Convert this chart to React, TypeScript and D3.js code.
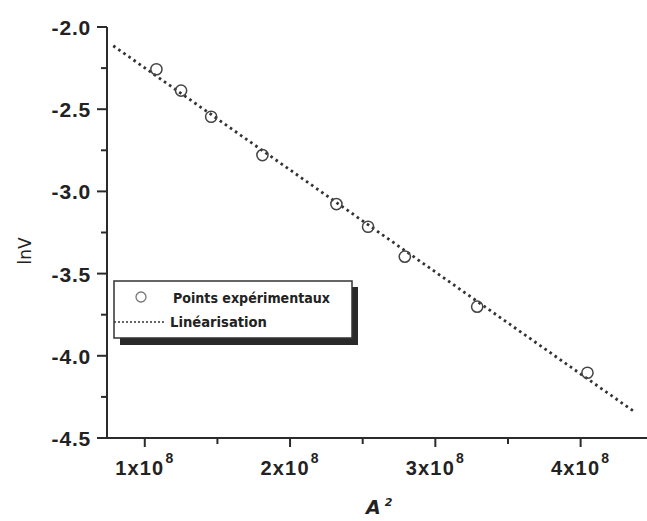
import React from "react";
import * as d3 from "d3";

// Data
const a2Values = [1.08e8, 1.25e8, 1.457e8, 1.81e8, 2.319e8, 2.537e8, 2.79e8, 3.288e8, 4.047e8];
const lnVValues = [-2.257, -2.387, -2.546, -2.779, -3.077, -3.215, -3.397, -3.701, -4.103];
const fitX = [0.783e8, 4.36e8];
const fitY = [-2.114, -4.334];
const yMajorTicks = [-2.0, -2.5, -3.0, -3.5, -4.0, -4.5];
const yTickLabels = ["-2.0", "-2.5", "-3.0", "-3.5", "-4.0", "-4.5"];
const yMinorTicks = [-2.25, -2.75, -3.25, -3.75, -4.25];
const xMajorTicks = [1e8, 2e8, 3e8, 4e8];
const xTickMantissa = ["1x10", "2x10", "3x10", "4x10"];
const xTickExponent = ["8", "8", "8", "8"];
const xMinorTicks = [1.5e8, 2.5e8, 3.5e8];
const legendLabels = ["Points expérimentaux", "Linéarisation"];

export default function App() {
  const W = 647, H = 521;
  const x = d3.scaleLinear().domain([0.74e8, 4.45e8]).range([107, 646]);
  const y = d3.scaleLinear().domain([-4.5, -2.0]).range([438, 27]);
  const axisColor = "#2b2b2b";
  const line = d3.line<number>().x((_, i) => x(fitX[i])).y((_, i) => y(fitY[i]));
  const x0 = x.range()[0];
  const y0 = y.range()[0];
  const tickFont = "'Liberation Sans', Arial, sans-serif";
  const legendFont = "'DejaVu Sans Condensed', 'DejaVu Sans', sans-serif";

  return (
    <svg width={W} height={H} style={{ position: "absolute", left: 0, top: 0, background: "#fff" }}>
      {/* fit line */}
      <path d={line(fitX) || ""} fill="none" stroke="#333" strokeWidth={2.8} strokeDasharray="2.6 3.6" />
      {/* points */}
      {a2Values.map((v, i) => (
        <circle key={i} cx={x(v)} cy={y(lnVValues[i])} r={5.6} fill="none" stroke="#444" strokeWidth={1.5} />
      ))}
      {/* y axis */}
      <line x1={x0} x2={x0} y1={y.range()[1]} y2={y0 + 1} stroke={axisColor} strokeWidth={2} />
      {yMajorTicks.map((t, i) => (
        <g key={"ym" + i}>
          <line x1={x0 - 10} x2={x0} y1={y(t)} y2={y(t)} stroke={axisColor} strokeWidth={2} />
          <text x={91} y={y(t) + 8} textAnchor="end" fontFamily={tickFont} fontWeight="bold" fontSize={21} letterSpacing={0.8} fill="#222">
            {yTickLabels[i]}
          </text>
        </g>
      ))}
      {yMinorTicks.map((t, i) => (
        <line key={"yn" + i} x1={x0 - 6} x2={x0} y1={y(t)} y2={y(t)} stroke={axisColor} strokeWidth={2} />
      ))}
      {/* x axis */}
      <line x1={x0 - 1} x2={W} y1={y0} y2={y0} stroke={axisColor} strokeWidth={2} />
      {xMajorTicks.map((t, i) => (
        <g key={"xm" + i}>
          <line x1={x(t)} x2={x(t)} y1={y0} y2={y0 + 9} stroke={axisColor} strokeWidth={2} />
          <text x={x(t)} y={475} textAnchor="middle" fontFamily={tickFont} fontWeight="bold" fontSize={20} letterSpacing={1.2} fill="#222">
            {xTickMantissa[i]}
            <tspan fontSize={14} dy={-12} dx={1}>{xTickExponent[i]}</tspan>
          </text>
        </g>
      ))}
      {xMinorTicks.map((t, i) => (
        <line key={"xn" + i} x1={x(t)} x2={x(t)} y1={y0} y2={y0 + 6} stroke={axisColor} strokeWidth={2} />
      ))}
      {/* axis titles */}
      <text transform="translate(31,251) rotate(-90)" textAnchor="middle" fontFamily="'DejaVu Sans', sans-serif" fontSize={17} fill="#222">
        lnV
      </text>
      <text x={366} y={514} fontFamily="'DejaVu Sans', sans-serif" fontWeight="bold" fontStyle="italic" fontSize={19} fill="#222">
        A
        <tspan fontSize={11} dx={4} dy={-8}>2</tspan>
      </text>
      {/* legend */}
      <rect x={120} y={287} width={238} height={58} fill="#2a2a2a" />
      <rect x={114} y={281} width={238} height={57} fill="#fff" stroke="#333" strokeWidth={1.5} />
      <circle cx={141} cy={297} r={5} fill="none" stroke="#777" strokeWidth={1.3} />
      <text x={173} y={303} fontFamily={legendFont} fontWeight="bold" fontSize={14} textLength={157} lengthAdjust="spacingAndGlyphs" fill="#222">
        {legendLabels[0]}
      </text>
      <line x1={114} x2={164} y1={322} y2={322} stroke="#333" strokeWidth={1.6} strokeDasharray="2 2" />
      <text x={170} y={327} fontFamily={legendFont} fontWeight="bold" fontSize={14} textLength={97} lengthAdjust="spacingAndGlyphs" fill="#222">
        {legendLabels[1]}
      </text>
    </svg>
  );
}
